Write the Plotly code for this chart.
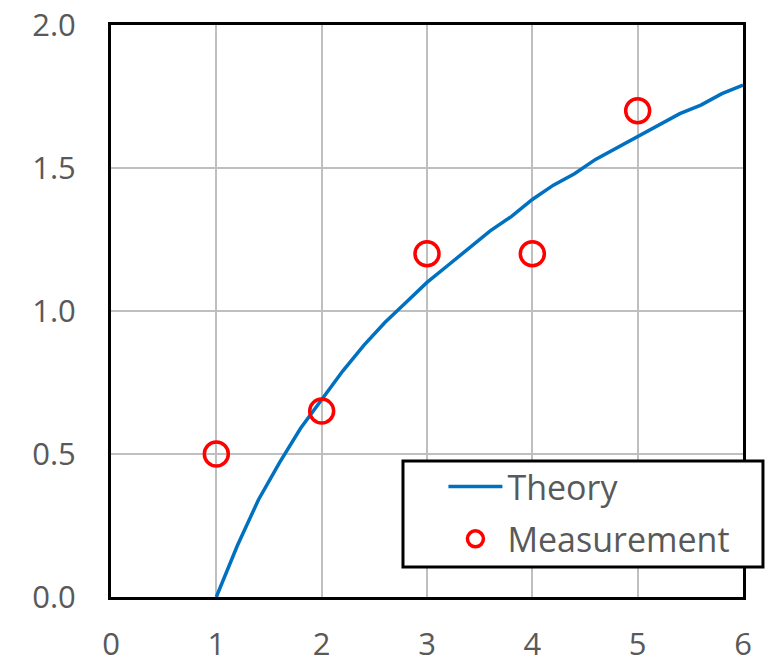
import plotly.graph_objects as go

theory_x = [1.0, 1.2, 1.4, 1.6, 1.8, 2.0, 2.2, 2.4, 2.6, 2.8, 3.0, 3.2, 3.4, 3.6, 3.8,
            4.0, 4.2, 4.4, 4.6, 4.8, 5.0, 5.2, 5.4, 5.6, 5.8, 6.0]
theory_y = [0.00, 0.18, 0.34, 0.47, 0.59, 0.69, 0.79, 0.88, 0.96, 1.03, 1.10, 1.16, 1.22,
            1.28, 1.33, 1.39, 1.44, 1.48, 1.53, 1.57, 1.61, 1.65, 1.69, 1.72, 1.76, 1.79]
meas_x = [1, 2, 3, 4, 5]
meas_y = [0.5, 0.65, 1.2, 1.2, 1.7]
x_ticks = [0, 1, 2, 3, 4, 5, 6]
y_ticks = [0.0, 0.5, 1.0, 1.5, 2.0]
y_tick_labels = ["0.0", "0.5", "1.0", "1.5", "2.0"]

FONT = "Open Sans"
GRAY = "#595959"

fig = go.Figure()
fig.add_trace(go.Scatter(x=theory_x, y=theory_y, mode="lines", name="Theory",
                         legendgroup="t",
                         line=dict(color="#0070C0", width=3.5)))
fig.add_trace(go.Scatter(x=meas_x, y=meas_y, mode="markers", name="Measurement",
                         legendgroup="m",
                         marker=dict(symbol="circle-open", size=24, color="#FF0000",
                                     line=dict(width=3.5, color="#FF0000"))))

# legend frame
fig.add_shape(type="rect", xref="paper", yref="paper",
              x0=0.462, x1=1.0316, y0=0.0524, y1=0.2378,
              line=dict(color="black", width=3), fillcolor="white", layer="above")

fig.update_layout(
    width=766, height=654,
    margin=dict(l=103, r=31, t=17, b=65),
    paper_bgcolor="white", plot_bgcolor="white",
    font=dict(family=FONT, size=31, color=GRAY),
    showlegend=True,
    legend=dict(x=0.526, y=0.243, xanchor="left", yanchor="top",
                bgcolor="rgba(0,0,0,0)", borderwidth=0,
                font=dict(family=FONT, size=34, color=GRAY),
                itemwidth=54, traceorder="grouped", tracegroupgap=5),
)
fig.update_xaxes(range=[0, 6], tickvals=x_ticks, ticktext=[str(v) for v in x_ticks],
                 showgrid=True, gridcolor="#BFBFBF", gridwidth=2,
                 showline=True, linecolor="black", linewidth=3, mirror=True,
                 zeroline=False, ticks="", ticklabelstandoff=18, automargin=False,
                 ticklabeloverflow="allow")
fig.update_yaxes(range=[0, 2], tickvals=y_ticks, ticktext=y_tick_labels,
                 showgrid=True, gridcolor="#BFBFBF", gridwidth=2,
                 showline=True, linecolor="black", linewidth=3, mirror=True,
                 zeroline=False, ticks="", ticklabelstandoff=26, automargin=False,
                 ticklabeloverflow="allow")

fig.write_html("out.html")
